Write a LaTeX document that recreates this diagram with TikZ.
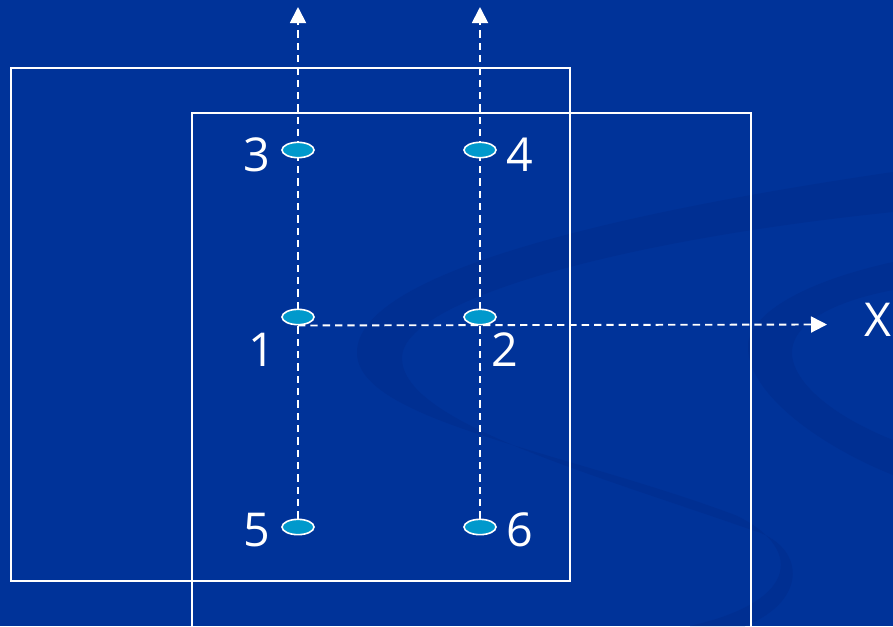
\documentclass[tikz,border=0pt]{standalone}
\usepackage{fontspec}
\setmainfont{Open Sans}
\usetikzlibrary{shapes.geometric,arrows.meta}
\definecolor{slidebg}{RGB}{0,51,153}
\definecolor{swooshc}{RGB}{0,47,146}
\definecolor{spot}{RGB}{0,153,204}
\pgfdeclarelayer{bg}
\pgfdeclarelayer{lines}
\pgfsetlayers{bg,lines,main}
\tikzset{
  frame/.style={draw=white,line width=1.5pt},
  guide/.style={draw=white,line width=1.4pt,dash pattern=on 5.5pt off 3.75pt,
    -{Triangle[length=12pt,width=12pt]}},
  spotnode/.style={ellipse,draw=white,fill=spot,line width=1.2pt,inner sep=0pt,
    minimum width=24pt,minimum height=11.5pt},
  lbl/.style={text=white,font=\fontsize{35}{40}\selectfont,inner sep=0pt},
}
\begin{document}
\begin{tikzpicture}[x=0.75pt,y=-0.75pt]
\useasboundingbox (0,0) rectangle (893,626);
\clip (0,0) rectangle (893,626);
\begin{pgfonlayer}{bg}
  \fill[slidebg] (0,0) rectangle (893,626);
  % faint swoosh of the slide background
  \fill[swooshc] (893,172) .. controls (600,215) and (358,275) .. (357,352)
    .. controls (356,420) and (560,450) .. (735,515)
    .. controls (800,545) and (805,600) .. (690,626)
    -- (745,626) .. controls (810,600) and (805,545) .. (752,530)
    .. controls (580,470) and (400,420) .. (402,357)
    .. controls (404,300) and (620,240) .. (893,212) -- cycle;
  \fill[swooshc] (893,262) .. controls (790,285) and (745,320) .. (748,350)
    .. controls (752,400) and (830,450) .. (893,475)
    -- (893,440) .. controls (830,415) and (790,380) .. (792,350)
    .. controls (795,320) and (840,300) .. (893,290) -- cycle;
\end{pgfonlayer}
% the two overlapping frames
\draw[frame] (11,68) rectangle (570,581);
\draw[frame] (192,113) rectangle (751,640);
% measuring points
\node[spotnode] (e3) at (298,150) {};
\node[spotnode] (e4) at (480,150) {};
\node[spotnode] (e1) at (298,317) {};
\node[spotnode] (e2) at (480,317) {};
\node[spotnode] (e5) at (298,527) {};
\node[spotnode] (e6) at (480,527) {};
\coordinate (up1) at (298,7);
\coordinate (up2) at (480,7);
\coordinate (xtip) at (827,324.5);
\begin{pgfonlayer}{lines}
  \draw[guide] (e5.north) -- (up1);
  \draw[guide] (e6.north) -- (up2);
  \draw[guide] (e1.south) -- (xtip);
\end{pgfonlayer}
% labels
\node[lbl] (l3) at (257,155) {3};
\node[lbl] (l4) at (520,155) {4};
\node[lbl] (l1) at (262,350) {1};
\node[lbl] (l2) at (505,350) {2};
\node[lbl] (l5) at (257,530) {5};
\node[lbl] (l6) at (520,530) {6};
\node[lbl] (lx) at (878,320) {X};
\end{tikzpicture}
\end{document}
